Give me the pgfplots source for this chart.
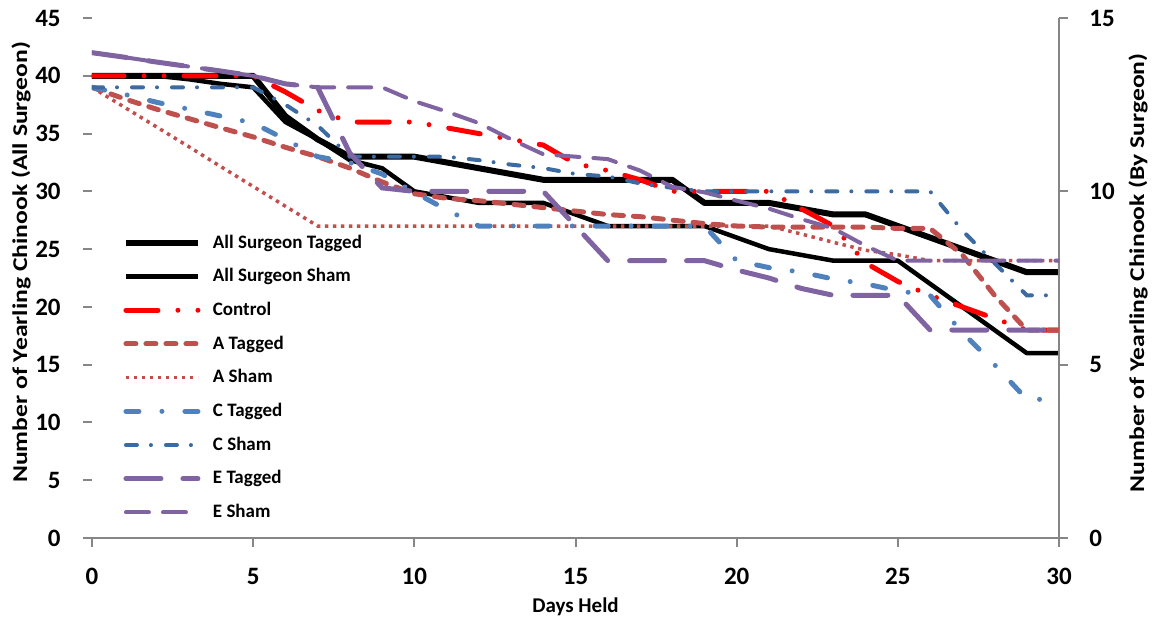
\documentclass[border=0pt]{standalone}
\usepackage{fontspec}
\setmainfont{Carlito}
\usepackage{pgfplots}
\usepackage{pgfplotstable}
\pgfplotsset{compat=1.18}

\definecolor{axgray}{HTML}{868686}
\definecolor{acol}{HTML}{C0504D}
\definecolor{ctcol}{HTML}{4F81BD}
\definecolor{cscol}{HTML}{3C6AA2}
\definecolor{ecol}{HTML}{8064A2}

\tikzset{
  allT/.style={black, line width=3pt, line join=round},
  allS/.style={black, line width=2.25pt, line join=round},
  ctrl/.style={red, line width=2.5pt, line cap=round, dash pattern=on 16pt off 10pt on 0pt off 10pt on 0pt off 10pt},
  aT/.style={acol, line width=2.5pt, line cap=round, dash pattern=on 5pt off 5pt},
  aS/.style={acol, line width=1.75pt, dash pattern=on 1.75pt off 2.25pt},
  cT/.style={ctcol, line width=2.5pt, line cap=round, dash pattern=on 6.5pt off 11.5pt on 0pt off 11.5pt},
  cS/.style={cscol, line width=2pt, line cap=round, dash pattern=on 5.5pt off 7pt on 0pt off 7.5pt},
  eT/.style={ecol, line width=2.5pt, line cap=round, dash pattern=on 17.5pt off 11pt},
  eS/.style={ecol, line width=2pt, line cap=round, dash pattern=on 11.5pt off 7pt},
}

% all surgeons and control, left axis
\pgfplotstableread{
day allT allS ctrl
0 40 40 40
1 40 40 40
2 40 40 40
3 40 39.7 40
4 40 39.3 40
5 40 39 40
6 36.5 36 38.6
7 34.5 34.5 37
8 33 32.7 36
9 33 32 36
10 33 30 36
11 32.5 29.5 35.5
12 32 29 35
13 31.5 29 34.5
14 31 29 34
15 31 28 32.4
16 31 27 31.8
17 31 27 31
18 31 27 30
19 29 27 30
20 29 26 30
21 29 25 30
22 28.5 24.5 28.5
23 28 24 27
24 28 24 23.8
25 27 24 22.2
26 26 22 21
27 25 20 20
28 24 18 19
29 23 16 18
30 23 16 18
}\lefttab

% by surgeon, right axis
\pgfplotstableread{
day aT aS cT cS eT eS
0 13 13 13 13 14 14
1 12.67 12.43 12.8 13 13.87 13.87
2 12.37 11.86 12.57 13 13.73 13.73
3 12.1 11.29 12.37 13 13.6 13.6
4 11.83 10.71 12.17 13 13.47 13.47
5 11.57 10.14 11.97 13 13.33 13.33
6 11.27 9.57 11.5 12.5 13.1 13.1
7 11 9 11 11.9 13 13
8 10.67 9 10.83 11 11.1 13
9 10.27 9 10.5 11 10.1 13
10 9.93 9 9.97 11 10 12.6
11 9.8 9 9.47 11 10 12.3
12 9.73 9 9 10.9 10 11.97
13 9.63 9 9 10.77 10 11.5
14 9.53 9 9 10.67 10 11.07
15 9.43 9 9 10.5 9 11
16 9.33 9 9 10.43 8 10.93
17 9.27 9 9 10.23 8 10.6
18 9.17 9 9 10.1 8 10.13
19 9.07 9 9 10 8 9.97
20 9 9 8 10 7.73 9.73
21 8.97 9 7.8 10 7.5 9.5
22 8.97 8.77 7.67 10 7.2 9.2
23 8.97 8.53 7.47 10 7 8.93
24 8.97 8.3 7.33 10 7 8.43
25 8.93 8.17 7.13 10 7 8
26 8.93 8 7 10 6 8
27 8.17 8 5.93 8.87 6 8
28 7 8 5 7.93 6 8
29 6 8 4 7 6 8
30 6 8 4 7 6 8
}\righttab

\pgfplotsset{
  common/.style={
    width=483.5pt, height=260pt, scale only axis,
    xmin=0, xmax=30,
    tick align=outside, major tick length=4.5pt,
    every tick/.style={axgray, line width=1pt},
    /pgf/number format/assume math mode=true,
    tick label style={font=\bfseries\fontsize{12.5}{12.5}\selectfont},
    label style={font=\bfseries\fontsize{10.5}{12}\selectfont},
    axis line style={axgray, line width=1.2pt, -},
  }
}

\begin{document}
\begin{tikzpicture}
\useasboundingbox (-46pt,-42.5pt) rectangle (532pt,269pt);
\begin{axis}[common,
  axis x line*=bottom, axis y line*=left,
  y axis line style={draw=none},
  ymin=0, ymax=45, ytick={0,5,...,45},
  xtick={0,5,...,30},
  xticklabel style={inner sep=0pt, yshift=-10.5pt},
  yticklabel style={anchor=east, inner sep=0pt, xshift=-11pt},
  xlabel={Days Held},
  ylabel={\scalebox{1.22}[1]{Number of Yearling Chinook (All Surgeon)}},
  xlabel style={at={(axis description cs:0.5,-0.1327)}, anchor=center},
  ylabel style={at={(axis description cs:-0.0734,0.53)}, anchor=center},
]
\addplot[allT] table[x=day,y=allT] {\lefttab};
\addplot[allS] table[x=day,y=allS] {\lefttab};
\addplot[ctrl] table[x=day,y=ctrl] {\lefttab};
\end{axis}

\begin{axis}[common,
  axis x line=none, axis y line*=right,
  ymin=0, ymax=15, ytick={0,5,10,15},
  yticklabel style={anchor=west, inner sep=0pt, xshift=10.5pt},
  ylabel={\scalebox{1.22}[1]{Number of Yearling Chinook (By Surgeon)}},
  ylabel style={at={(axis description cs:1.0817,0.51)}, anchor=center},
  legend image code/.code={\draw[#1] (0pt,0pt) -- (36pt,0pt);},
  legend cell align=left,
  legend style={draw=none, fill=none, at={(axis description cs:0.032,0.6)},
    anchor=north west, inner sep=0pt, outer sep=0pt, column sep=6pt, row sep=0pt,
    nodes={inner sep=0pt, minimum height=16.85pt, font=\bfseries\fontsize{9.5}{10}\selectfont}},
]
\addlegendimage{allT}\addlegendentry{All Surgeon Tagged}
\addlegendimage{allS}\addlegendentry{All Surgeon Sham}
\addlegendimage{ctrl}\addlegendentry{Control}
\addplot[aT] table[x=day,y=aT] {\righttab}; \addlegendentry{A Tagged}
\addplot[aS] table[x=day,y=aS] {\righttab}; \addlegendentry{A Sham}
\addplot[cT] table[x=day,y=cT] {\righttab}; \addlegendentry{C Tagged}
\addplot[cS] table[x=day,y=cS] {\righttab}; \addlegendentry{C Sham}
\addplot[eT] table[x=day,y=eT] {\righttab}; \addlegendentry{E Tagged}
\addplot[eS] table[x=day,y=eS] {\righttab}; \addlegendentry{E Sham}
\end{axis}
\end{tikzpicture}
\end{document}
